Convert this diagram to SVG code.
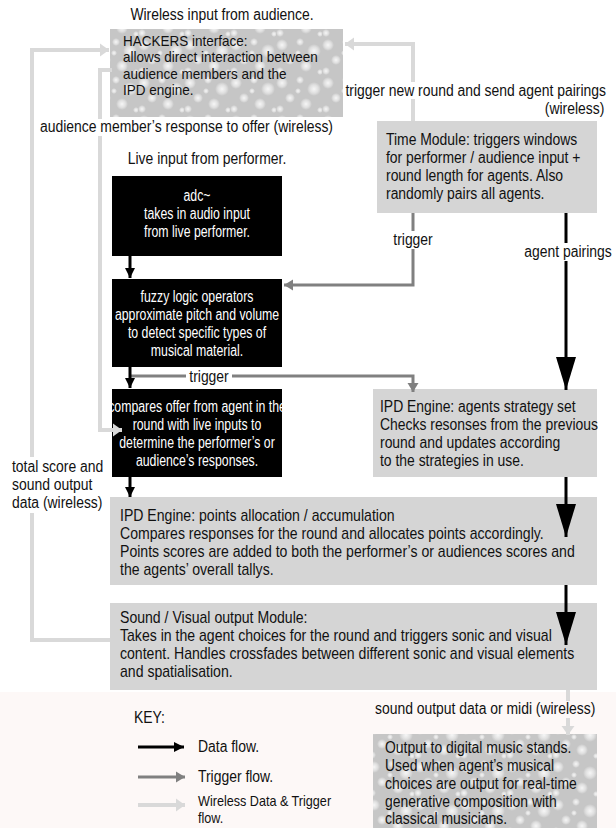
<svg xmlns="http://www.w3.org/2000/svg" width="616" height="828" viewBox="0 0 616 828">
<style>
text{font-family:"Liberation Sans",Arial,sans-serif;font-size:16px;fill:#111}
.w{fill:#fff}
.c{text-anchor:middle}
.e{text-anchor:end}
.blk{fill:#000}
.gry{fill:#d5d5d5}
.data{stroke:#000;stroke-width:3;fill:none}
.trig{stroke:#808080;stroke-width:3;fill:none}
.wire{stroke:#d9d9d9;stroke-width:4;fill:none}
.bg{fill:#fff}
.sm{font-size:15px}
.xs{font-size:14.5px}
</style>
<defs>
<radialGradient id="blob"><stop offset="0" stop-color="#fff" stop-opacity="0.85"/><stop offset="0.6" stop-color="#fff" stop-opacity="0.45"/><stop offset="1" stop-color="#fff" stop-opacity="0"/></radialGradient>
<pattern id="tex" width="46" height="38" patternUnits="userSpaceOnUse">
<rect width="46" height="38" fill="#c6c6c6"/>
<circle cx="6" cy="7" r="6" fill="url(#blob)"/>
<circle cx="24" cy="4" r="4" fill="url(#blob)"/>
<circle cx="38" cy="13" r="7" fill="url(#blob)"/>
<circle cx="14" cy="22" r="5" fill="url(#blob)"/>
<circle cx="30" cy="28" r="6" fill="url(#blob)"/>
<circle cx="4" cy="33" r="4" fill="url(#blob)"/>
<circle cx="44" cy="34" r="3" fill="url(#blob)"/>
<circle cx="22" cy="15" r="3" fill="url(#blob)"/>
</pattern>
<marker id="ad" markerUnits="userSpaceOnUse" markerWidth="14" markerHeight="10" refX="10" refY="5" orient="auto"><path d="M0,0 L10,5 L0,10 z" fill="#000"/></marker>
<marker id="adb" markerUnits="userSpaceOnUse" markerWidth="34" markerHeight="24" refX="33" refY="11" orient="auto"><path d="M0,1 L33,11 L0,21 z" fill="#000"/></marker>
<marker id="at" markerUnits="userSpaceOnUse" markerWidth="12" markerHeight="12" refX="9" refY="6" orient="auto"><path d="M0,0.5 L9,6 L0,11.5 z" fill="#808080"/></marker>
<marker id="aw" markerUnits="userSpaceOnUse" markerWidth="12" markerHeight="14" refX="9" refY="7" orient="auto"><path d="M0,0.5 L9,7 L0,13.5 z" fill="#d9d9d9"/></marker>
</defs>
<rect width="616" height="828" fill="#fff"/>
<rect x="0" y="692" width="616" height="136" fill="#fdf8f7"/>

<g id="hackers">
<rect x="110" y="29" width="233" height="88" fill="url(#tex)"/>
<g transform="translate(123,0) scale(0.9,1)">
<text class="sm" y="46">HACKERS interface:</text>
<text class="sm" y="62.5">allows direct interaction between</text>
<text class="sm" y="79">audience members and the</text>
<text class="sm" y="95.5">IPD engine.</text>
</g>
</g>
<g id="timemodule">
<rect class="gry" x="377" y="121" width="220" height="92"/>
<g transform="translate(386,0) scale(0.87,1)">
<text y="145">Time Module: triggers windows</text>
<text y="163">for performer / audience input +</text>
<text y="181">round length for agents.  Also</text>
<text y="199">randomly pairs all agents.</text>
</g>
</g>
<g id="adc">
<rect class="blk" x="112" y="176" width="170" height="80"/>
<g transform="translate(197,0) scale(0.77,1)">
<text class="w c" y="201">adc~</text>
<text class="w c" y="219">takes in audio input</text>
<text class="w c" y="237">from live performer.</text>
</g>
</g>
<g id="fuzzy">
<rect class="blk" x="112" y="279" width="170" height="88"/>
<g transform="translate(197,0) scale(0.77,1)">
<text class="w c" y="302">fuzzy logic operators</text>
<text class="w c" y="320">approximate pitch and volume</text>
<text class="w c" y="338">to detect specific types of</text>
<text class="w c" y="356">musical material.</text>
</g>
</g>
<g id="compares">
<rect class="blk" x="112" y="389" width="170" height="88"/>
<g transform="translate(197,0) scale(0.77,1)">
<text class="w c" y="412">compares offer from agent in the</text>
<text class="w c" y="430">round with live inputs to</text>
<text class="w c" y="448">determine the performer’s or</text>
<text class="w c" y="466">audience’s responses.</text>
</g>
</g>
<g id="strategy">
<rect class="gry" x="373" y="389" width="224" height="88"/>
<g transform="translate(380,0) scale(0.87,1)">
<text y="412">IPD Engine: agents strategy set</text>
<text y="430">Checks resonses from the previous</text>
<text y="448">round and updates according</text>
<text y="466">to the strategies in use.</text>
</g>
</g>
<g id="points">
<rect class="gry" x="110" y="497" width="487" height="88"/>
<g transform="translate(120,0) scale(0.88,1)">
<text y="521">IPD Engine: points allocation / accumulation</text>
<text y="539">Compares responses for the round and allocates points accordingly.</text>
<text y="557">Points scores are added to both the performer’s or audiences scores and</text>
<text y="575">the agents’ overall tallys.</text>
</g>
</g>
<g id="sound">
<rect class="gry" x="110" y="603" width="487" height="87"/>
<g transform="translate(120,0) scale(0.88,1)">
<text y="623">Sound / Visual output Module:</text>
<text y="641">Takes in the agent choices for the round and triggers sonic and visual</text>
<text y="659">content.  Handles crossfades between different sonic and visual elements</text>
<text y="677">and spatialisation.</text>
</g>
</g>
<g id="output">
<rect x="373" y="734" width="224" height="94" fill="url(#tex)"/>
<g transform="translate(385,0) scale(0.87,1)">
<text y="753">Output to digital music stands.</text>
<text y="771">Used when agent’s musical</text>
<text y="789">choices are output for real-time</text>
<text y="807">generative composition with</text>
<text y="824">classical musicians.</text>
</g>
</g>

<g id="connectors">
<path class="wire" d="M110,640 H32 V50 H109" marker-end="url(#aw)"/>
<path class="wire" d="M112,70 H100 V430 H122" marker-end="url(#aw)"/>
<path class="wire" d="M413,121 V44 H345" marker-end="url(#aw)"/>
<path class="wire" d="M568,690 V735" marker-end="url(#aw)"/>
<path class="trig" d="M413,213 V285 H284" marker-end="url(#at)"/>
<path class="trig" d="M130,376 H413 V392" marker-end="url(#at)"/>
<path class="data" d="M130,256 V278" marker-end="url(#ad)"/>
<path class="data" d="M130,367 V388" marker-end="url(#ad)"/>
<path class="data" d="M130,477 V497" marker-end="url(#ad)"/>
<path class="data" d="M566,213 V390" marker-end="url(#adb)"/>
<path class="data" d="M566,477 V537" marker-end="url(#adb)"/>
<path class="data" d="M566,585 V645" marker-end="url(#adb)"/>
</g>

<g id="labels">
<g transform="translate(222,0) scale(0.87,1)"><text class="c" y="20">Wireless input from audience.</text></g>
<rect class="bg" x="350" y="82" width="258" height="17"/>
<g transform="translate(606,0) scale(0.87,1)">
<text class="e" y="96">trigger new round and send agent pairings</text>
<text class="e" x="-2" y="114">(wireless)</text>
</g>
<rect class="bg" x="38" y="119" width="300" height="17"/>
<g transform="translate(40,0) scale(0.87,1)"><text y="132">audience member’s response to offer (wireless)</text></g>
<g transform="translate(207,0) scale(0.87,1)"><text class="c" y="164">Live input from performer.</text></g>
<rect class="bg" x="394" y="231" width="38" height="18"/>
<g transform="translate(413,0) scale(0.87,1)"><text class="c" y="245">trigger</text></g>
<rect class="bg" x="525" y="243" width="86" height="18"/>
<g transform="translate(568,0) scale(0.87,1)"><text class="c" y="257">agent pairings</text></g>
<rect class="bg" x="186" y="369" width="46" height="15"/>
<g transform="translate(209,0) scale(0.87,1)"><text class="c" y="382">trigger</text></g>
<rect class="bg" x="8" y="457" width="94" height="56"/>
<g transform="translate(12,0) scale(0.87,1)">
<text y="472">total score and</text>
<text y="490">sound output</text>
<text y="508">data (wireless)</text>
</g>
<rect x="372" y="701" width="242" height="17" fill="#fdf8f7"/>
<g transform="translate(375,0) scale(0.87,1)"><text y="714">sound output data or midi (wireless)</text></g>
</g>

<g id="key">
<g transform="translate(134,0) scale(0.87,1)"><text y="723">KEY:</text></g>
<path class="data" d="M138,747 H184" marker-end="url(#ad)"/>
<path class="trig" d="M138,777 H185" marker-end="url(#at)"/>
<path class="wire" d="M138,805 H185" marker-end="url(#aw)"/>
<g transform="translate(198,0) scale(0.87,1)">
<text y="752">Data flow.</text>
<text y="782">Trigger flow.</text>
<text class="xs" y="806">Wireless Data &amp; Trigger</text>
<text class="xs" y="823">flow.</text>
</g>
</g>
</svg>
